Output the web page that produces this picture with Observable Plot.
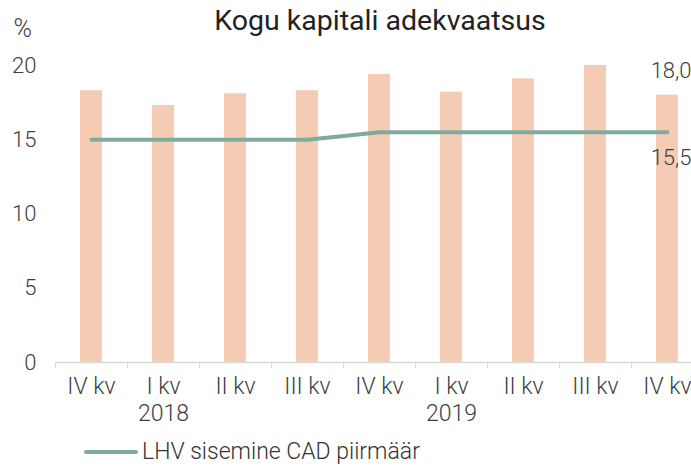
<!DOCTYPE html>
<html><head><meta charset="utf-8">
<script src="https://cdn.jsdelivr.net/npm/d3@7"></script>
<script src="https://cdn.jsdelivr.net/npm/@observablehq/plot@0.6"></script>
<style>
body{margin:0;background:#fff;}
#wrap{position:relative;width:691px;height:466px;overflow:hidden;font-family:Roboto,"Liberation Sans",sans-serif;color:#333;}
#title{position:absolute;top:4px;left:55px;width:650px;text-align:center;font-size:28.5px;font-weight:400;color:#222;}
#legend{position:absolute;left:84px;top:438px;font-size:23px;font-weight:300;display:flex;align-items:center;color:#333;}
.sw{display:inline-block;width:54px;height:4px;background:#7faa9f;border-radius:2px;margin-right:4px;}
</style></head><body>
<div id="wrap"><div id="chart"></div><div id="title">Kogu kapitali adekvaatsus</div><div id="legend"><span class="sw"></span>LHV sisemine CAD piirmäär</div></div>
<script>
const quarters = ["2017-Q4","2018-Q1","2018-Q2","2018-Q3","2018-Q4","2019-Q1","2019-Q2","2019-Q3","2019-Q4"];
const tickLabels = ["IV kv","I kv\n2018","II kv","III kv","IV kv","I kv\n2019","II kv","III kv","IV kv"];
const capitalAdequacy = [18.3,17.3,18.1,18.3,19.4,18.2,19.1,20.0,18.0];
const internalLimit = [15.0,15.0,15.0,15.0,15.5,15.5,15.5,15.5,15.5];
const yTicks = [0,5,10,15,20];

const data = quarters.map((q,i)=>({q, cad: capitalAdequacy[i], limit: internalLimit[i]}));
const last = data[data.length-1];
const fmt = v => v.toFixed(1).replace(".", ",");

const chart = Plot.plot({
  width: 691, height: 466,
  marginTop: 65, marginBottom: 104, marginLeft: 55, marginRight: 0,
  style: {fontFamily: 'Roboto, "Liberation Sans", sans-serif', fontSize: "22px", color: "#404040", background: "#fff", fontWeight: 300},
  x: {type: "band", domain: quarters, range: [55, 703], paddingInner: 0.69, paddingOuter: 0.345, align: 0.5},
  y: {domain: [0, 20], range: [362, 65]},
  marks: [
    Plot.barY(data, {x: "q", y: "cad", fill: "#f5cbb3"}),
    Plot.ruleY([0], {stroke: "#d9d9d9", strokeWidth: 1.5}),
    Plot.axisX({tickSize: 6, text: null, dx: -36, stroke: "#d9d9d9", strokeOpacity: 1, label: null}),
    Plot.axisX({tickSize: 0, tickPadding: 13, tickFormat: d => tickLabels[quarters.indexOf(d)], lineHeight: 1.15, fontSize: 23, label: null}),
    Plot.axisY({ticks: yTicks, tickSize: 0, tickPadding: 19, label: null}),
    Plot.text(["%"], {frameAnchor: "top-left", dx: -42, dy: -46, textAnchor: "start", fontSize: 25}),
    Plot.line(data, {x: "q", y: "limit", stroke: "#7faa9f", strokeWidth: 4, strokeLinecap: "round"}),
    Plot.text([last], {x: "q", y: "cad", text: d => fmt(d.cad), textAnchor: "end", dx: 24, dy: -24, fontSize: 22}),
    Plot.text([last], {x: "q", y: "limit", text: d => fmt(d.limit), textAnchor: "end", dx: 24, dy: 26, fontSize: 22})
  ]
});
document.getElementById("chart").appendChild(chart);
</script>
</body></html>
